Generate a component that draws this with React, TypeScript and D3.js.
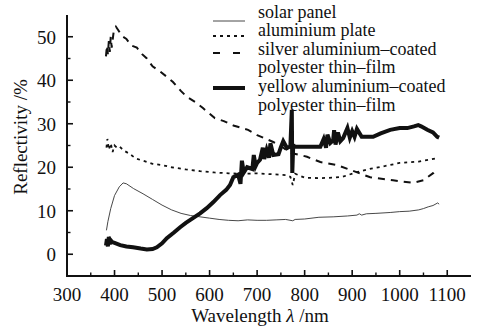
import * as d3 from "d3";

// wavelength (nm) / reflectivity (%)
const solarWl = [383, 386, 392, 400, 410, 418, 425, 440, 460, 480, 500, 520, 540, 560, 580, 600, 620, 640, 660, 680, 700, 720, 740, 760, 775, 780, 800, 830, 860, 890, 910, 915, 920, 930, 950, 980, 1000, 1020, 1040, 1050, 1060, 1070, 1080, 1083];
const solarVal = [5.5, 7.5, 10.5, 13.5, 15.5, 16.4, 16.2, 15.1, 13.9, 12.6, 11.3, 10.2, 9.4, 8.9, 8.6, 8.3, 8.0, 7.8, 7.7, 7.9, 7.8, 7.8, 7.9, 8.0, 7.7, 8.0, 8.1, 8.5, 8.6, 8.8, 9.0, 9.3, 9.0, 9.3, 9.4, 9.6, 9.8, 9.9, 10.2, 10.5, 10.9, 11.2, 11.8, 11.5];

const alWl = [383, 385, 388, 392, 396, 400, 405, 410, 420, 430, 445, 460, 480, 500, 520, 550, 580, 610, 640, 670, 700, 730, 760, 770, 775, 780, 800, 830, 860, 880, 910, 940, 970, 1000, 1040, 1080];
const alVal = [24.5, 26.5, 24, 25.5, 23.5, 25, 24.5, 24.8, 23.8, 23.2, 22, 21.5, 20.8, 20.5, 20, 19.5, 19.1, 18.8, 18.6, 18.5, 18.6, 18.4, 18.2, 17.8, 15.9, 18.5, 17.6, 17.5, 17.6, 17.8, 18.9, 19.7, 20.3, 21, 21.3, 22.1];

const silverWl = [382, 384, 386, 388, 390, 392, 394, 398, 403, 408, 415, 425, 435, 447, 458, 468, 480, 496, 510, 523, 540, 552, 570, 586, 600, 611, 630, 650, 681, 700, 734, 750, 769, 791, 805, 833, 868, 896, 938, 986, 1028, 1050, 1071, 1080];
const silverVal = [45.5, 48, 46, 49, 46.5, 50, 47.5, 51, 52.3, 51.5, 50.2, 49.5, 48, 47.5, 46, 45, 43.2, 42, 40.8, 39.6, 37.5, 36.2, 35, 33.6, 32.3, 31.3, 30.6, 29.6, 28.6, 27.4, 25.8, 24.9, 23.3, 22.8, 22.4, 21.2, 20.5, 19.4, 17.7, 17, 16.4, 17, 18.7, 19.8];

const yellowWl = [382, 384, 386, 388, 390, 392, 395, 400, 412, 425, 439, 455, 468, 480, 489, 500, 510, 525, 538, 550, 565, 580, 594, 608, 622, 635, 643, 650, 660, 665, 668, 672, 679, 690, 693, 697, 700, 706, 712, 715, 720, 725, 728, 734, 745, 750, 755, 763, 770, 773, 774, 776, 778, 790, 810, 833, 840, 845, 848, 854, 860, 862, 865, 870, 875, 881, 890, 895, 900, 905, 910, 920, 944, 960, 980, 1000, 1016, 1030, 1039, 1045, 1058, 1070, 1079, 1083];
const yellowVal = [2.0, 3.5, 1.8, 4.0, 2.3, 3.2, 2.8, 2.6, 2.1, 1.8, 1.6, 1.3, 1.1, 1.2, 1.6, 2.5, 3.7, 5.0, 6.2, 7.2, 8.3, 9.4, 10.6, 12.0, 13.6, 14.8, 15.9, 17.7, 18.3, 16.2, 21.5, 18.8, 20.0, 19.6, 22.8, 20.3, 21.0, 21.7, 24.5, 21.9, 24.0, 22.2, 25.5, 22.8, 23.0, 24.6, 26.0, 24.4, 24.8, 33.2, 18.7, 25.2, 24.7, 24.7, 24.7, 24.7, 26.5, 24.5, 27.5, 25.6, 26.2, 28.5, 25.2, 28.0, 26.0, 26.7, 29.0, 26.8, 28.3, 27.0, 28.8, 27.0, 27.0, 27.8, 28.6, 29.0, 29.0, 29.4, 29.7, 29.4, 28.6, 28.0, 27.0, 26.8];

const legendLabels = [
  ["solar panel"],
  ["aluminium plate"],
  ["silver aluminium\u2013coated", "polyester thin\u2013film"],
  ["yellow aluminium\u2013coated", "polyester thin\u2013film"],
];

const xTicks = [300, 400, 500, 600, 700, 800, 900, 1000, 1100];
const yTicks = [0, 10, 20, 30, 40, 50];

const FONT = "Liberation Serif, Times New Roman, Tinos, DejaVu Serif";
const INK = "#111";

const styles = [
  { stroke: "#333", width: 0.9, dash: null },
  { stroke: INK, width: 1.8, dash: "3 4" },
  { stroke: INK, width: 2, dash: "7 6" },
  { stroke: INK, width: 4, dash: null },
];

const App = () => {
  const width = 483;
  const height = 329;

  const x = d3.scaleLinear().domain([300, 1150]).range([67, 471]);
  const y = d3.scaleLinear().domain([-5, 55]).range([276, 15]);

  const line = d3
    .line<[number, number]>()
    .x((d) => x(d[0]))
    .y((d) => y(d[1]));

  const series = [
    d3.zip(solarWl, solarVal),
    d3.zip(alWl, alVal),
    d3.zip(silverWl, silverVal),
    d3.zip(yellowWl, yellowVal),
  ];

  const xMinor = d3.range(350, 1150, 100);
  const yMinor = d3.range(-5, 55, 10);

  // legend rows: one baseline every 18.6px, samples at the left
  const rowY = (i) => 17.5 + i * 18.6;
  const sampleY = [21, 36, 53, 88];
  let row = 0;
  const legendRows = legendLabels.map((lines, i) => {
    const start = row;
    row += lines.length;
    return { lines, start, i };
  });

  return (
    <svg
      width={width}
      height={height}
      style={{ position: "absolute", left: 0, top: 0, background: "#fff" }}
    >
      <g>
        {series.map((s, i) => (
          <path
            key={`s-${i}`}
            d={line(s)}
            fill="none"
            stroke={styles[i].stroke}
            strokeWidth={styles[i].width}
            strokeDasharray={styles[i].dash || undefined}
          />
        ))}
      </g>

      {/* axes */}
      <g stroke={INK} strokeWidth={2}>
        <line x1={x(300)} x2={x(300)} y1={y(55)} y2={y(-5) + 1} />
        <line x1={x(300) - 1} x2={x(1150)} y1={y(-5)} y2={y(-5)} />
        {xTicks.map((t) => (
          <line key={`xt-${t}`} x1={x(t)} x2={x(t)} y1={y(-5)} y2={y(-5) - 6} strokeWidth={1.6} />
        ))}
        {xMinor.map((t) => (
          <line key={`xm-${t}`} x1={x(t)} x2={x(t)} y1={y(-5)} y2={y(-5) - 3.5} strokeWidth={1.4} />
        ))}
        {yTicks.map((t) => (
          <line key={`yt-${t}`} x1={x(300)} x2={x(300) + 6} y1={y(t)} y2={y(t)} strokeWidth={1.6} />
        ))}
        {yMinor.map((t) => (
          <line key={`ym-${t}`} x1={x(300)} x2={x(300) + 3.5} y1={y(t)} y2={y(t)} strokeWidth={1.4} />
        ))}
      </g>

      <g style={{ fontFamily: FONT, fontSize: "19px" }} fill={INK}>
        {xTicks.map((t) => (
          <text key={`xl-${t}`} x={x(t)} y={301} textAnchor="middle">
            {t}
          </text>
        ))}
        {yTicks.map((t) => (
          <text key={`yl-${t}`} x={56} y={y(t) + 7} textAnchor="end">
            {t}
          </text>
        ))}
        <text x={260} y={322} textAnchor="middle">
          Wavelength <tspan fontStyle="italic">λ</tspan> /nm
        </text>
        <text transform="translate(27,137) rotate(-90)" textAnchor="middle">
          Reflectivity /%
        </text>
      </g>

      <g style={{ fontFamily: FONT, fontSize: "18px" }} fill={INK}>
        {legendRows.map(({ lines, start, i }) => (
          <g key={`lg-${i}`}>
            <line
              x1={213}
              x2={245}
              y1={sampleY[i]}
              y2={sampleY[i]}
              stroke={styles[i].stroke}
              strokeWidth={styles[i].width}
              strokeDasharray={i === 1 ? "3 4" : i === 2 ? "7 13" : undefined}
            />
            {lines.map((l, j) => (
              <text key={j} x={258} y={rowY(start + j)}>
                {l}
              </text>
            ))}
          </g>
        ))}
      </g>
    </svg>
  );
};

export default App;
